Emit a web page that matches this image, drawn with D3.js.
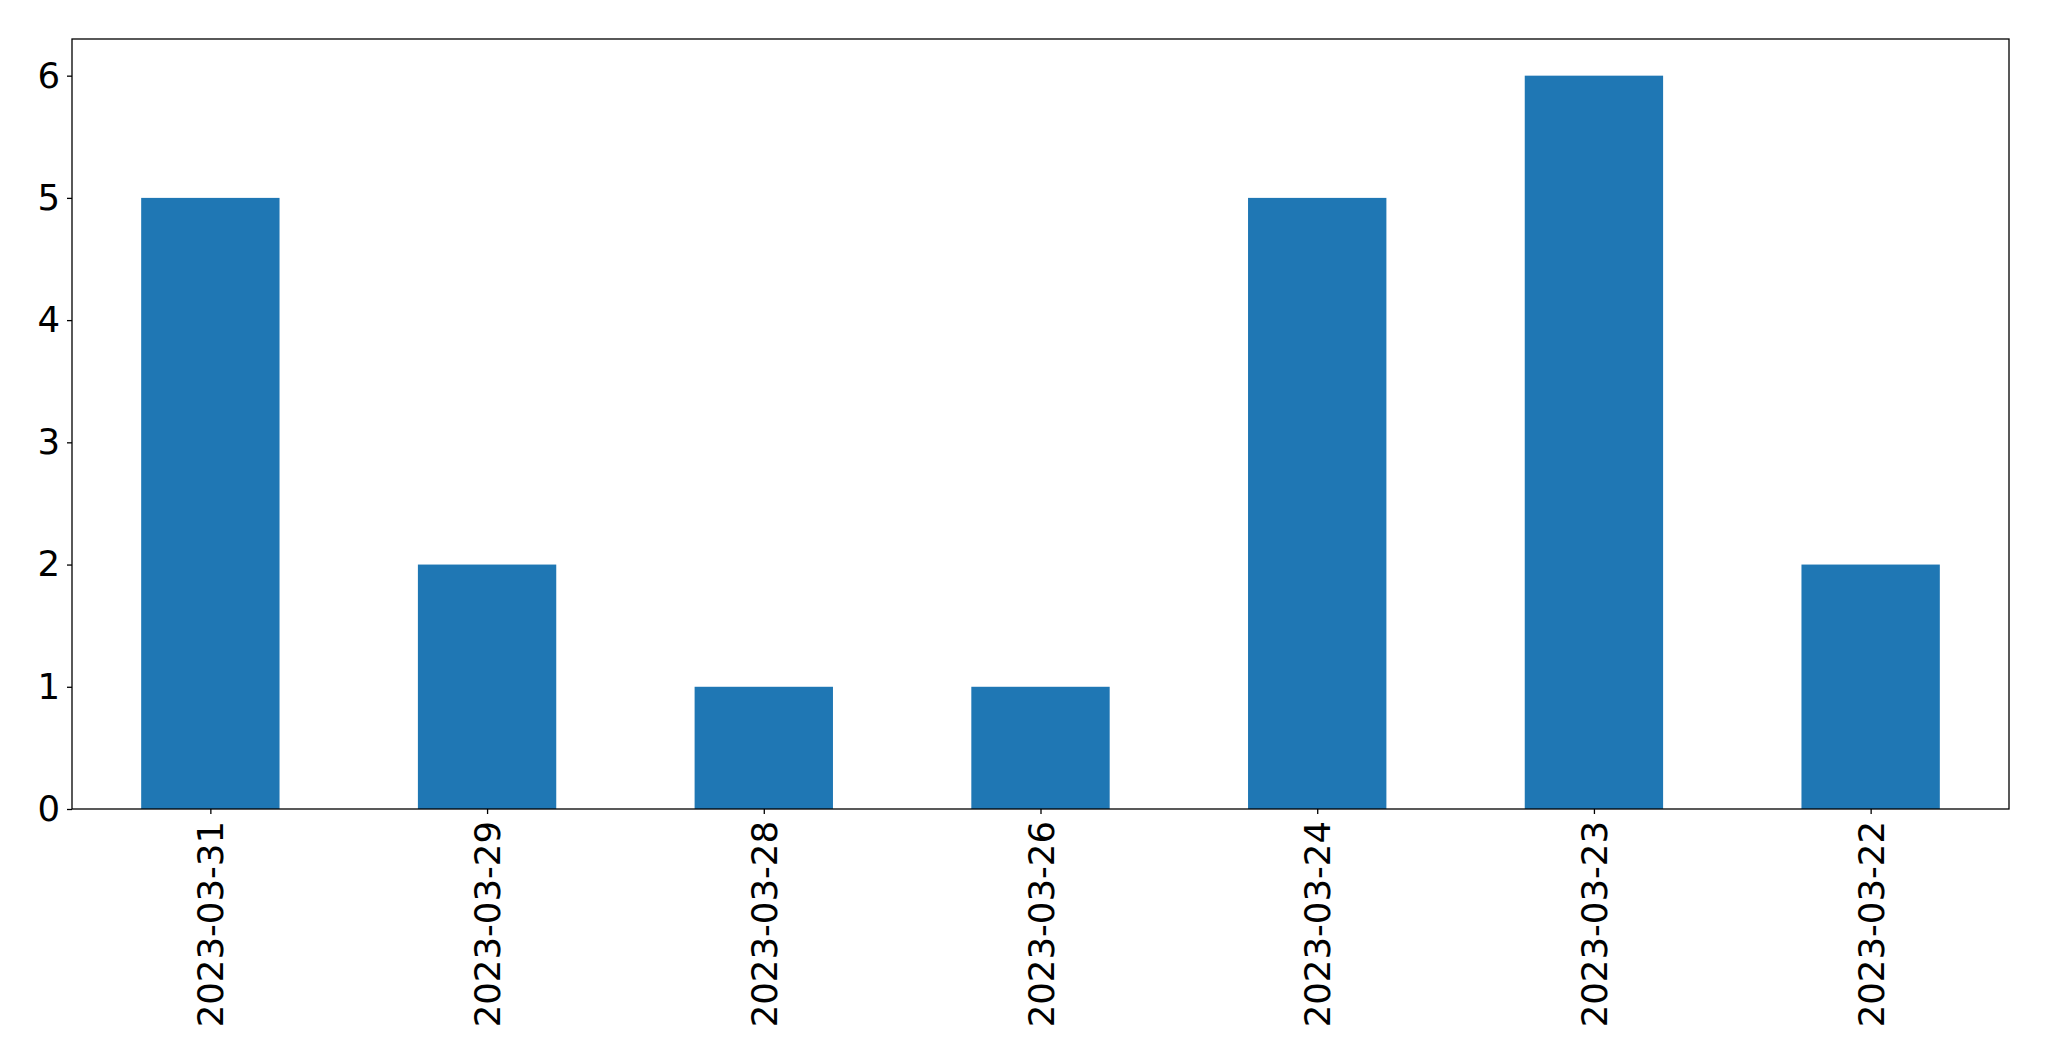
<!DOCTYPE html>
<html><head><meta charset="utf-8">
<script src="https://cdn.jsdelivr.net/npm/d3@7"></script>
<style>body{margin:0;background:#fff;} svg{display:block;}</style>
</head><body>
<svg id="chart" width="2049" height="1061"></svg>
<script>
const categories = ["2023-03-31","2023-03-29","2023-03-28","2023-03-26","2023-03-24","2023-03-23","2023-03-22"];
const values = [5, 2, 1, 1, 5, 6, 2];
const yTicks = [0, 1, 2, 3, 4, 5, 6];

const W = 2049, H = 1061;
const m = {left: 72, right: W - 2009, top: 39, bottom: H - 809};
const svg = d3.select("#chart");
const iw = W - m.left - m.right, ih = H - m.top - m.bottom;
const g = svg.append("g").attr("transform", `translate(${m.left},${m.top})`);

const x = d3.scaleLinear().domain([-0.5, categories.length - 0.5]).range([0, iw]);
const y = d3.scaleLinear().domain([0, 6.3]).range([ih, 0]);
const bw = x(0.5) - x(0);

g.selectAll("rect.bar").data(values).join("rect")
  .attr("class", "bar")
  .attr("x", (d, i) => x(i) - bw / 2)
  .attr("width", bw)
  .attr("y", d => y(d))
  .attr("height", d => y(0) - y(d))
  .attr("fill", "#1f77b4");

const font = "DejaVu Sans";
const fs = 35.5;

// Y axis
const yAxis = d3.axisLeft(y).tickValues(yTicks).tickFormat(d3.format("d")).tickSize(5).tickPadding(7);
const ya = g.append("g").call(yAxis);
ya.select(".domain").remove();
ya.selectAll("line").attr("stroke", "#000").attr("stroke-width", 1.3);
ya.selectAll("text").attr("font-family", font).attr("font-size", fs).attr("fill", "#000");

// X axis
const xAxis = d3.axisBottom(x).tickValues(d3.range(categories.length)).tickFormat(i => categories[i]).tickSize(5);
const xa = g.append("g").attr("transform", `translate(0,${ih})`).call(xAxis);
xa.select(".domain").remove();
xa.selectAll("line").attr("stroke", "#000").attr("stroke-width", 1.3);
xa.selectAll("text")
  .attr("font-family", font).attr("font-size", fs).attr("fill", "#000")
  .attr("text-anchor", "end")
  .attr("dy", null)
  .attr("dominant-baseline", "central")
  .attr("transform", "translate(0,12) rotate(-90)")
  .attr("x", 0).attr("y", 0);

// Frame
g.append("rect").attr("x", 0).attr("y", 0).attr("width", iw).attr("height", ih)
  .attr("fill", "none").attr("stroke", "#000").attr("stroke-width", 1.3);
</script>
</body></html>
